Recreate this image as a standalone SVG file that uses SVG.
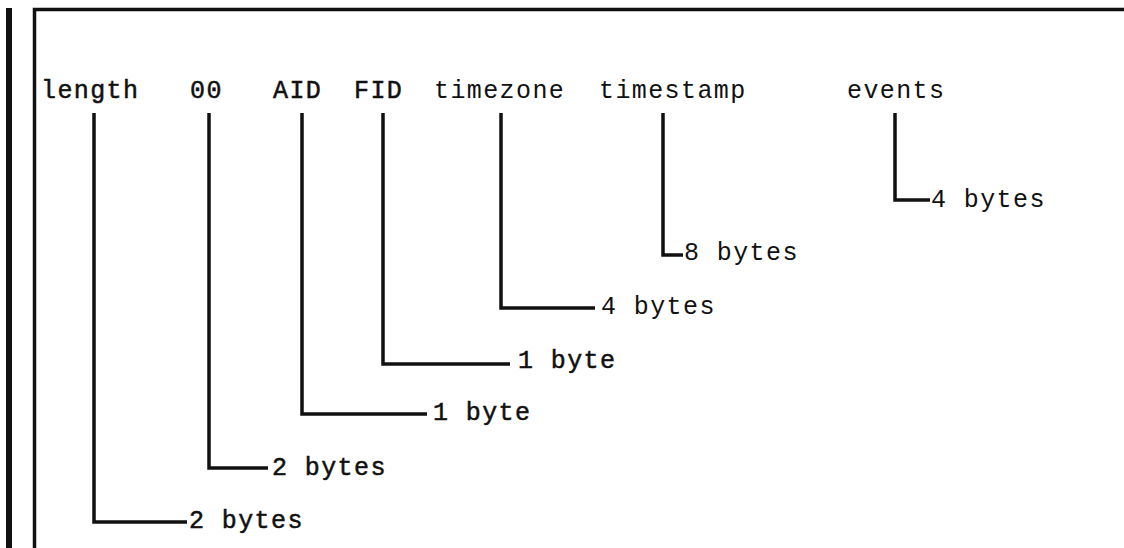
<svg xmlns="http://www.w3.org/2000/svg" width="1124" height="548" viewBox="0 0 1124 548">
<style>
text{font-family:"Liberation Mono","DejaVu Sans Mono",monospace;font-size:25px;letter-spacing:1.4px;fill:#111}
.dk{stroke:#111;stroke-width:0.5}
.ln{fill:none;stroke:#111;stroke-width:3.5;stroke-linejoin:miter;stroke-linecap:butt}
</style>
<rect width="1124" height="548" fill="#fff"/>
<g id="frame">
<line x1="9" y1="8" x2="9" y2="548" stroke="#111" stroke-width="6"/>
<path d="M34.5 548 V9.5 H1124" fill="none" stroke="#111" stroke-width="3.5"/>
</g>
<g id="connectors">
<path class="ln" d="M94 113 V522 H187"/>
<path class="ln" d="M209 113 V468 H268"/>
<path class="ln" d="M302 113 V414 H427"/>
<path class="ln" d="M383 113 V364 H510"/>
<path class="ln" d="M501 113 V308 H595"/>
<path class="ln" d="M663 113 V255 H683"/>
<path class="ln" d="M895 113 V200 H930"/>
</g>
<g id="length"><text class="dk" x="41" y="98">length</text><text class="dk" x="189" y="528">2 bytes</text></g>
<g id="f00"><text class="dk" x="190" y="98">00</text><text class="dk" x="272" y="475">2 bytes</text></g>
<g id="aid"><text class="dk" x="273" y="98">AID</text><text class="dk" x="433" y="420">1 byte</text></g>
<g id="fid"><text class="dk" x="354" y="98">FID</text><text class="dk" x="518" y="368">1 byte</text></g>
<g id="timezone"><text x="434" y="98">timezone</text><text x="601" y="314">4 bytes</text></g>
<g id="timestamp"><text x="599" y="98">timestamp</text><text x="684" y="260">8 bytes</text></g>
<g id="events"><text x="847" y="98">events</text><text x="931" y="207">4 bytes</text></g>
</svg>
